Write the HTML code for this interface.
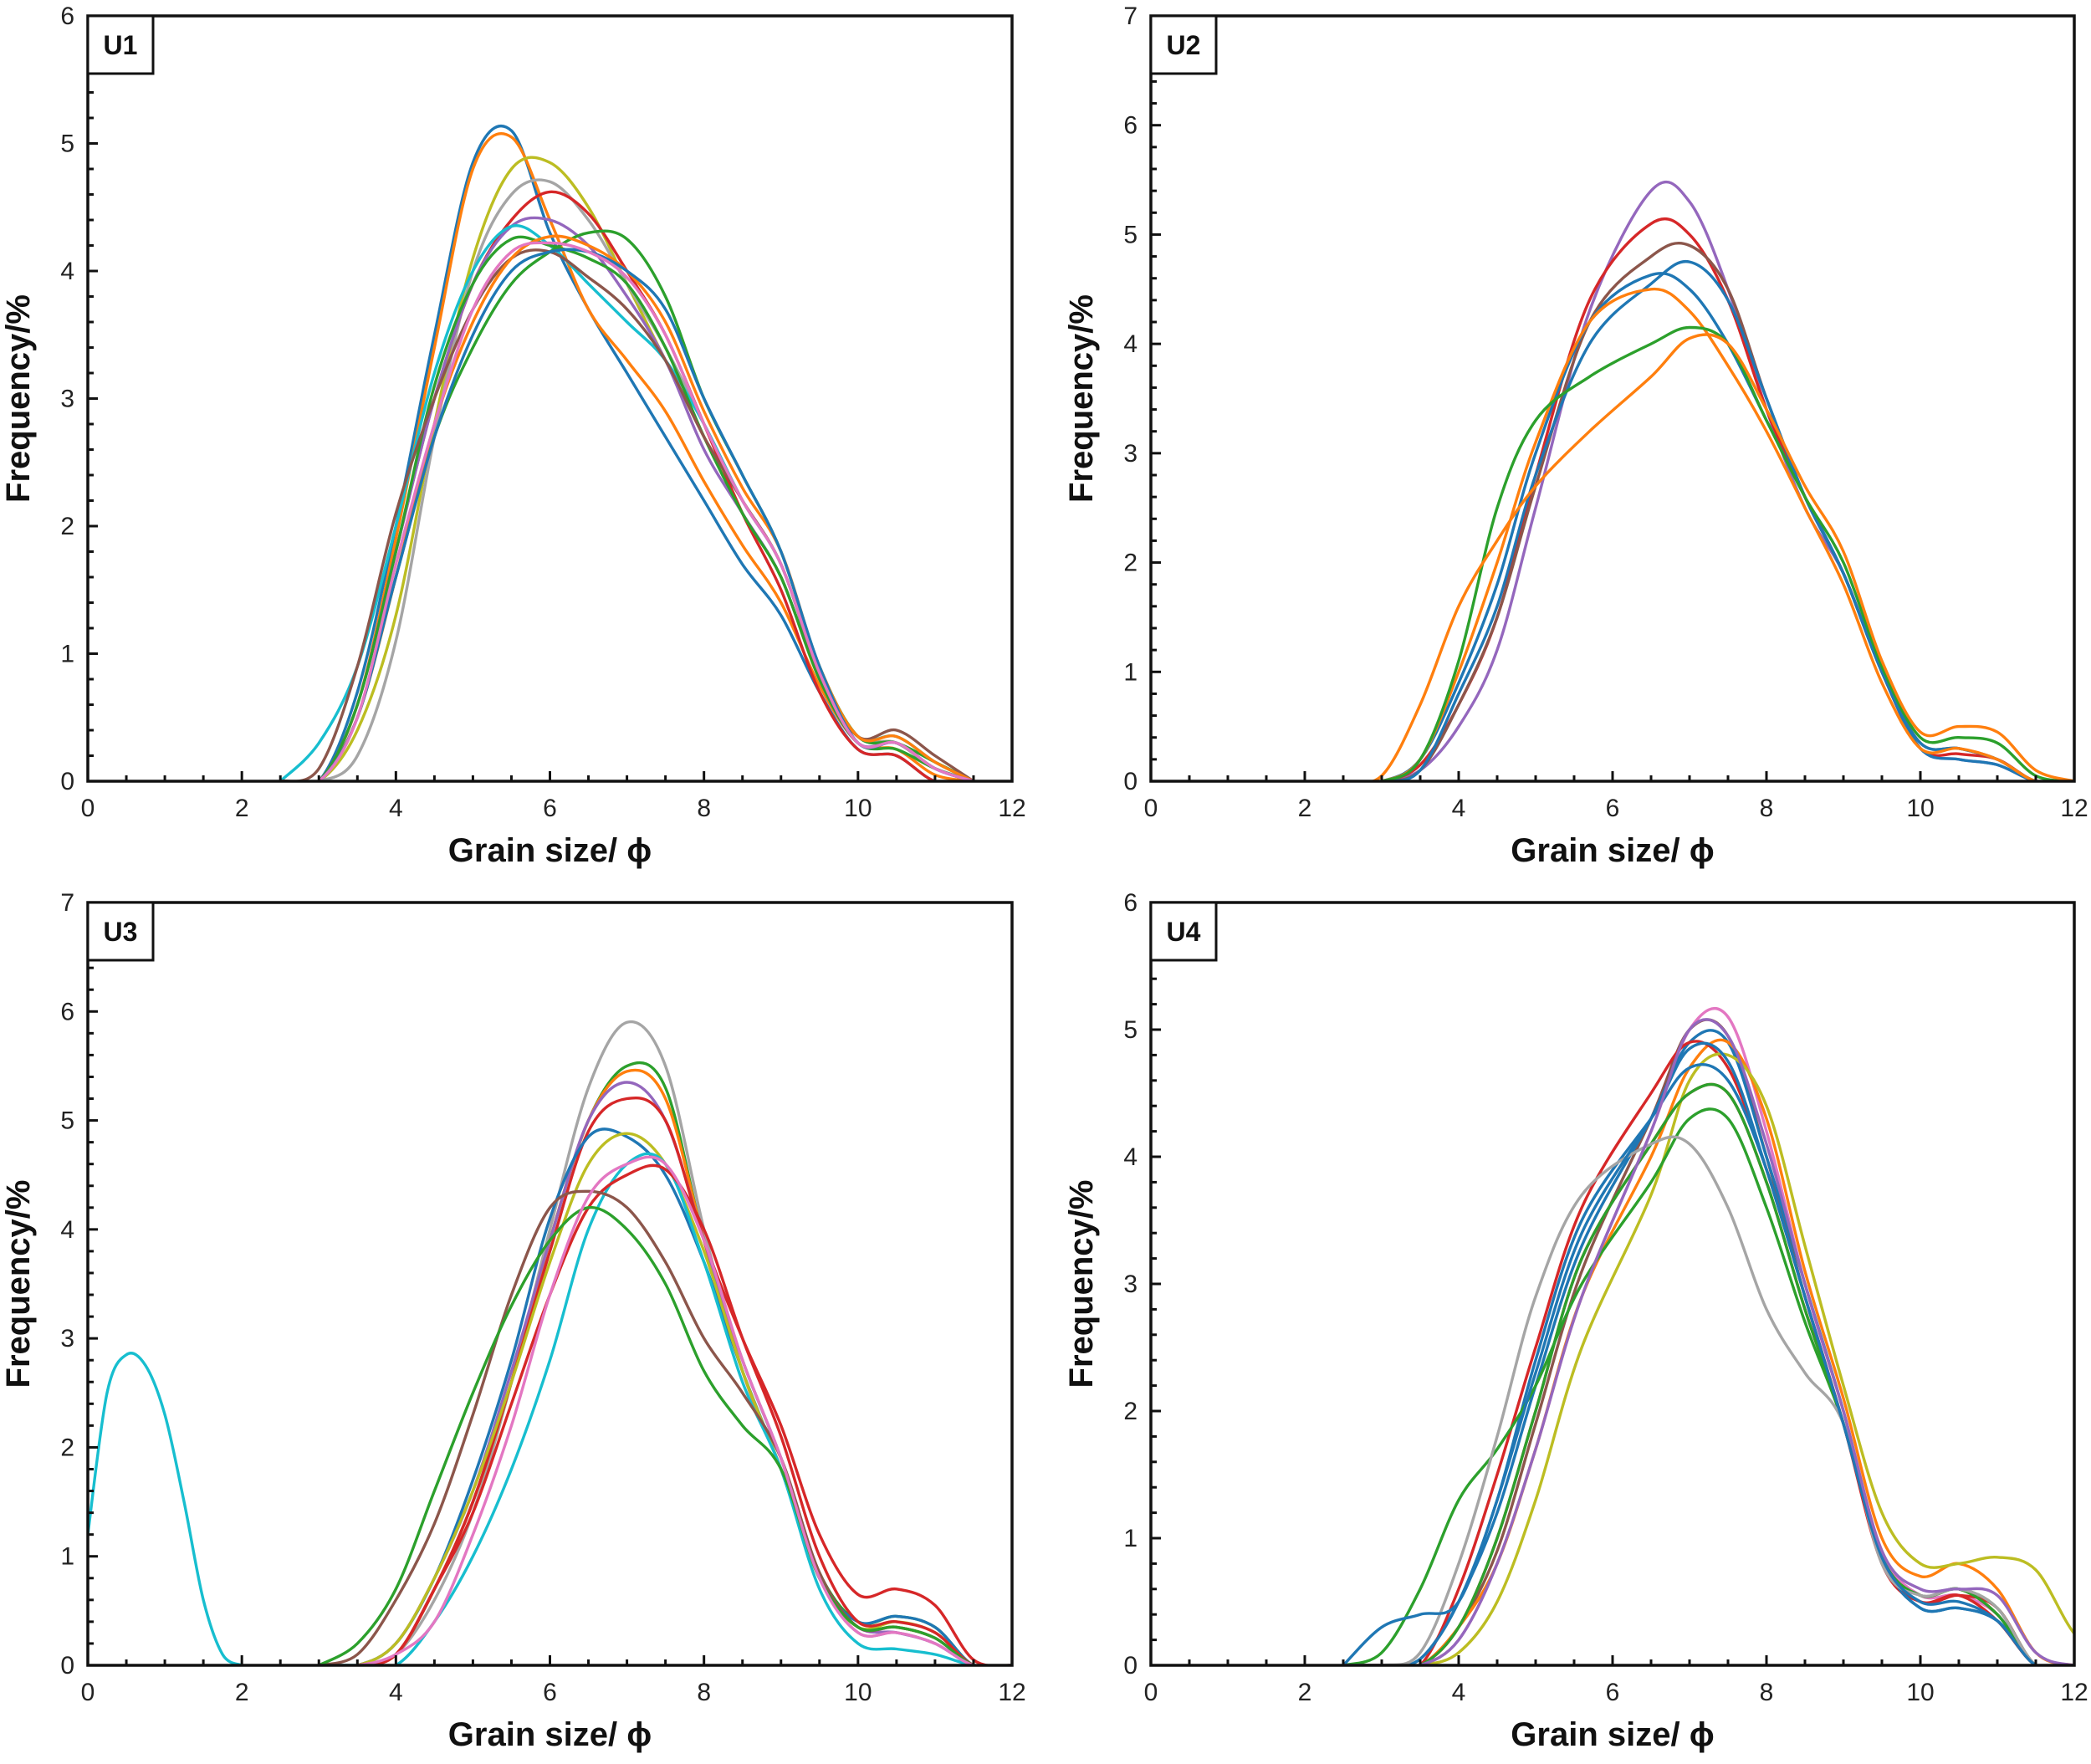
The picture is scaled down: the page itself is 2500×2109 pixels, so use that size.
<!DOCTYPE html>
<html><head><meta charset="utf-8">
<style>
html,body{margin:0;padding:0;background:#fff;}
svg{display:block;font-family:"Liberation Sans",sans-serif;}
.tick{font-size:30px;fill:#222;}
.ttl{font-size:40px;font-weight:bold;fill:#111;}
</style></head>
<body>
<svg id="chart" width="2500" height="2109" viewBox="0 0 2500 2109" xmlns="http://www.w3.org/2000/svg"></svg>
<script>
const colors={blue:"#1f77b4",orange:"#ff7f0e",green:"#2ca02c",red:"#d62728",purple:"#9467bd",brown:"#8c564b",pink:"#e377c2",gray:"#a5a5a5",olive:"#bcbd22",cyan:"#17becf"};
const gridA=[2.5,3,3.5,4,4.5,5,5.5,6,6.5,7,7.5,8,8.5,9,9.5,10,10.5,11,11.5];
const gridU2=[2.5,3,3.5,4,4.5,5,5.7,6.5,7,7.5,8,8.5,9,9.5,10,10.5,11,11.5,12];
const gridC=[3,3.5,4,4.5,5,5.5,6,6.5,7,7.5,8,8.5,9,9.5,10,10.5,11,11.5,12];
const gridU4=[2.5,3,3.5,4,4.5,5,5.6,6.5,7,7.5,8,8.5,9,9.5,10,10.5,11,11.5,12,12.5];
const u1Names=["blue","orange","olive","gray","red","purple","cyan","green","green","brown","orange","blue","pink"];
const u1Values=[
[0,0,.7,2.0,3.5,4.85,5.1,4.3,3.7,3.2,2.7,2.2,1.7,1.3,.7,.25,.2,0,0],
[0,0,.6,1.9,3.4,4.8,5.05,4.4,3.7,3.3,2.9,2.35,1.85,1.4,.75,.3,.25,.05,0],
[0,0,.4,1.3,2.8,4.1,4.8,4.85,4.5,3.9,3.3,2.7,2.1,1.6,.8,.35,.3,.1,0],
[0,0,.2,1.1,2.7,4.0,4.6,4.7,4.4,3.9,3.4,2.8,2.2,1.7,.85,.35,.3,.1,0],
[0,0,.6,1.8,3.0,3.9,4.4,4.62,4.45,4.0,3.5,2.8,2.1,1.5,.7,.25,.2,0,0],
[0,0,.6,1.8,3.0,3.9,4.35,4.4,4.2,3.8,3.3,2.6,2.1,1.6,.8,.3,.3,.1,0],
[0,.3,.9,2.0,3.2,4.0,4.35,4.2,3.9,3.6,3.3,2.8,2.2,1.7,.85,.35,.35,.15,0],
[0,0,.5,1.6,2.7,3.4,3.9,4.15,4.3,4.25,3.8,3.0,2.4,1.8,.9,.35,.3,.15,0],
[0,0,.6,1.8,3.1,3.9,4.25,4.2,4.1,3.9,3.4,2.7,2.1,1.6,.8,.3,.25,.1,0],
[0,.1,.9,2.1,3.0,3.7,4.1,4.15,3.95,3.7,3.3,2.7,2.2,1.7,.85,.35,.4,.2,0],
[0,0,.5,1.6,2.8,3.6,4.1,4.27,4.2,4.0,3.6,2.9,2.3,1.8,.9,.35,.35,.15,0],
[0,0,.5,1.6,2.7,3.5,4.0,4.15,4.15,4.0,3.7,3.0,2.4,1.8,.9,.3,.3,.1,0],
[0,0,.5,1.7,2.8,3.7,4.15,4.22,4.15,3.95,3.5,2.8,2.2,1.7,.85,.3,.3,.1,0]];
const u2Names=["purple","red","brown","blue","blue","orange","green","orange"];
const u2Values=[
[0,0,.1,.5,1.2,2.5,4.3,5.4,5.3,4.5,3.4,2.5,1.9,1.0,.3,.2,.15,0,0],
[0,0,.15,.7,1.5,2.8,4.4,5.1,5.0,4.4,3.4,2.6,1.9,1.0,.3,.25,.2,0,0],
[0,0,.1,.7,1.5,2.7,4.2,4.8,4.9,4.5,3.5,2.6,1.9,1.0,.35,.3,.2,0,0],
[0,0,.1,.8,1.6,2.8,4.0,4.55,4.75,4.4,3.5,2.6,1.9,1.0,.3,.2,.15,0,0],
[0,0,.2,.9,1.8,3.0,4.2,4.63,4.5,4.0,3.3,2.6,1.9,1.0,.35,.3,.2,0,0],
[0,0,.2,1.0,2.0,3.1,4.2,4.5,4.3,3.8,3.2,2.5,1.8,.9,.3,.3,.2,0,0],
[0,0,.2,1.1,2.5,3.3,3.7,4.0,4.15,4.0,3.3,2.6,2.0,1.05,.4,.4,.35,.05,0],
[0,.05,.7,1.6,2.2,2.7,3.2,3.7,4.05,4.0,3.4,2.7,2.1,1.1,.45,.5,.45,.1,0]];
const u3Names=["gray","green","orange","purple","red","blue","olive","cyan","red","brown","green","pink"];
const u3Values=[
[0,0,.1,.6,1.4,2.6,4.0,5.3,5.9,5.5,4.0,2.7,1.8,.8,.3,.3,.2,0,0],
[0,0,.1,.7,1.5,2.6,3.9,5.0,5.5,5.3,3.9,2.8,1.9,.85,.4,.45,.35,0,0],
[0,0,.1,.7,1.5,2.6,3.9,5.0,5.45,5.2,3.9,2.7,1.8,.8,.35,.35,.25,0,0],
[0,0,.2,.8,1.6,2.7,3.9,5.0,5.35,5.0,3.9,2.8,1.9,.8,.35,.3,.2,0,0],
[0,0,.1,.7,1.5,2.6,3.8,4.9,5.2,5.0,3.9,3.0,2.2,1.2,.65,.7,.55,.05,0],
[0,0,.2,.8,1.7,2.8,4.1,4.85,4.85,4.5,3.7,2.7,1.8,.8,.4,.45,.35,0,0],
[0,0,.2,.8,1.6,2.6,3.7,4.6,4.88,4.6,3.8,2.7,1.8,.8,.35,.4,.3,0,0],
[0,0,0,.4,1.0,1.8,2.8,4.0,4.6,4.6,3.7,2.6,1.8,.7,.2,.15,.1,0,0],
[0,0,.1,.7,1.4,2.4,3.4,4.2,4.5,4.55,4.0,3.0,2.1,1.0,.4,.4,.3,0,0],
[0,.1,.6,1.3,2.3,3.4,4.2,4.35,4.2,3.7,3.0,2.5,1.9,.85,.35,.35,.25,0,0],
[0,.2,.7,1.6,2.5,3.3,3.9,4.2,4.0,3.5,2.7,2.2,1.8,.8,.35,.35,.25,0,0],
[0,0,.1,.4,1.2,2.2,3.4,4.3,4.6,4.6,3.9,2.8,1.9,.8,.3,.3,.2,0,0]];
const u3LowX=[0,0.25,0.5,0.75,1,1.25,1.5,1.75,2];
const u3LowY=[1.2,2.5,2.85,2.75,2.3,1.5,0.6,0.1,0];
const u4Names=["pink","brown","blue","orange","red","olive","blue","red","green","green","gray","blue","purple"];
const u4Values=[
[0,0,0,.2,.8,1.7,2.9,4.2,5.0,5.1,4.2,3.0,2.0,.9,.55,.55,.4,0,0,0],
[0,0,0,.3,.9,1.9,3.1,4.3,5.0,4.95,4.0,2.9,1.9,.85,.55,.6,.4,0,0,0],
[0,0,.05,.5,1.2,2.2,3.3,4.3,4.9,4.9,4.0,3.0,2.0,.85,.45,.45,.35,0,0,0],
[0,0,0,.3,.8,1.7,2.9,4.0,4.7,4.9,4.3,3.1,2.1,1.0,.7,.8,.6,.1,0,0],
[0,0,0,.6,1.5,2.5,3.6,4.5,4.9,4.7,3.9,2.9,1.9,.8,.5,.55,.35,0,0,0],
[0,0,0,.1,.5,1.3,2.5,3.7,4.6,4.8,4.4,3.3,2.2,1.2,.8,.8,.85,.75,.25,0],
[0,0,.05,.5,1.3,2.4,3.5,4.3,4.7,4.6,3.9,2.9,1.9,.85,.45,.45,.35,0,0,0],
[0,0,0,.3,1.0,2.0,3.2,4.1,4.5,4.5,3.8,2.8,1.9,.85,.5,.55,.45,0,0,0],
[0,0,0,.3,1.0,2.0,3.2,4.1,4.5,4.5,3.8,2.8,1.9,.85,.55,.6,.4,0,0,0],
[0,.1,.6,1.3,1.7,2.2,3.0,3.8,4.3,4.3,3.6,2.7,1.9,.85,.55,.6,.45,0,0,0],
[0,0,.1,.8,1.8,2.9,3.7,4.1,4.1,3.6,2.8,2.3,1.9,.8,.55,.6,.45,0,0,0],
[0,.3,.4,.5,1.3,2.3,3.4,4.3,4.85,4.75,3.9,2.9,1.9,.85,.5,.5,.35,0,0,0],
[0,0,0,.2,.8,1.7,2.9,4.2,5.0,4.95,4.1,3.0,2.0,.9,.6,.6,.55,.1,0,0]];
const xTicks=[0,2,4,6,8,10,12];

const NS="http://www.w3.org/2000/svg";
const svg=document.getElementById("chart");
function mk(tag,attrs,parent){const e=document.createElementNS(NS,tag);for(const k in attrs)e.setAttribute(k,attrs[k]);(parent||svg).appendChild(e);return e;}
function smooth(pts){let d="M"+pts[0][0].toFixed(1)+","+pts[0][1].toFixed(1);
 for(let i=0;i<pts.length-1;i++){const p0=pts[Math.max(0,i-1)],p1=pts[i],p2=pts[i+1],p3=pts[Math.min(pts.length-1,i+2)];
 const c1=[p1[0]+(p2[0]-p0[0])/6,p1[1]+(p2[1]-p0[1])/6],c2=[p2[0]-(p3[0]-p1[0])/6,p2[1]-(p3[1]-p1[1])/6];
 d+=" C"+c1[0].toFixed(1)+","+c1[1].toFixed(1)+" "+c2[0].toFixed(1)+","+c2[1].toFixed(1)+" "+p2[0].toFixed(1)+","+p2[1].toFixed(1);}
 return d;}

function panel(id,L,R,T,B,ymax,grid,names,vals,extra){
 const g=mk("g",{});
 
 
 const xs=v=>L+(R-L)*v/12, ys=v=>B-(B-T)*v/ymax;
 const cp=mk("clipPath",{id:"clip-"+id},g);mk("rect",{x:L,y:T,width:R-L,height:B-T},cp);
 const lines=mk("g",{"clip-path":"url(#clip-"+id+")"},g);
 
 
 vals.forEach((v,i)=>{const pts=v.map((y,j)=>[xs(grid[j]),ys(Math.max(0,y))]);
  const p=mk("path",{d:smooth(pts),fill:"none",stroke:colors[names[i]],"stroke-width":3.4,"stroke-linejoin":"round"},lines);
  
  });
 if(extra){const pts=extra.x.map((x,j)=>[xs(x),ys(extra.y[j])]);
  const p=mk("path",{d:smooth(pts),fill:"none",stroke:colors.cyan,"stroke-width":3.4},lines);
  
  }
 for(let v=0;v<=12.001;v+=0.5){const maj=Math.abs(v-Math.round(v/2)*2)<1e-6;
  mk("line",{x1:xs(v),x2:xs(v),y1:B,y2:B-(maj?12:7),stroke:"#111","stroke-width":3},g);}
 for(let v=0;v<=ymax+1e-6;v+=0.2){const maj=Math.abs(v-Math.round(v))<1e-6;
  mk("line",{x1:L,x2:L+(maj?12:7),y1:ys(v),y2:ys(v),stroke:"#111","stroke-width":3},g);}
 const fr=mk("rect",{x:L,y:T,width:R-L,height:B-T,fill:"none",stroke:"#111","stroke-width":3.5},g);
 
 
 xTicks.forEach(v=>{const t=mk("text",{x:xs(v),y:B+42,"text-anchor":"middle",class:"tick"},g);t.textContent=v;
  
  });
 for(let v=0;v<=ymax;v++){const t=mk("text",{x:L-16,y:ys(v)+10,"text-anchor":"end",class:"tick"},g);t.textContent=v;
  
  }
 const xt=mk("text",{x:(L+R)/2,y:B+96,"text-anchor":"middle",class:"ttl"},g);xt.textContent="Grain size/ \u03D5";
 
 
 const yx=L-70,yy=(T+B)/2;
 const yt=mk("text",{x:yx,y:yy,"text-anchor":"middle",class:"ttl",transform:"rotate(-90 "+yx+" "+yy+")"},g);yt.textContent="Frequency/%";
 
 
 const bx=mk("rect",{x:L,y:T,width:78,height:69,fill:"#fff",stroke:"#111","stroke-width":3},g);
 
 
 const lb=mk("text",{x:L+39,y:T+46,"text-anchor":"middle",style:"font-size:32px;font-weight:bold",fill:"#111"},g);lb.textContent=id.toUpperCase();
 
 
}
panel("u1",105,1210,19,934,6,gridA,u1Names,u1Values);
panel("u2",1376,2480,19,934,7,gridU2,u2Names,u2Values);
panel("u3",105,1210,1079,1991,7,gridC,u3Names,u3Values,{x:u3LowX,y:u3LowY});
panel("u4",1376,2480,1079,1991,6,gridU4,u4Names,u4Values);
</script>
</body></html>
